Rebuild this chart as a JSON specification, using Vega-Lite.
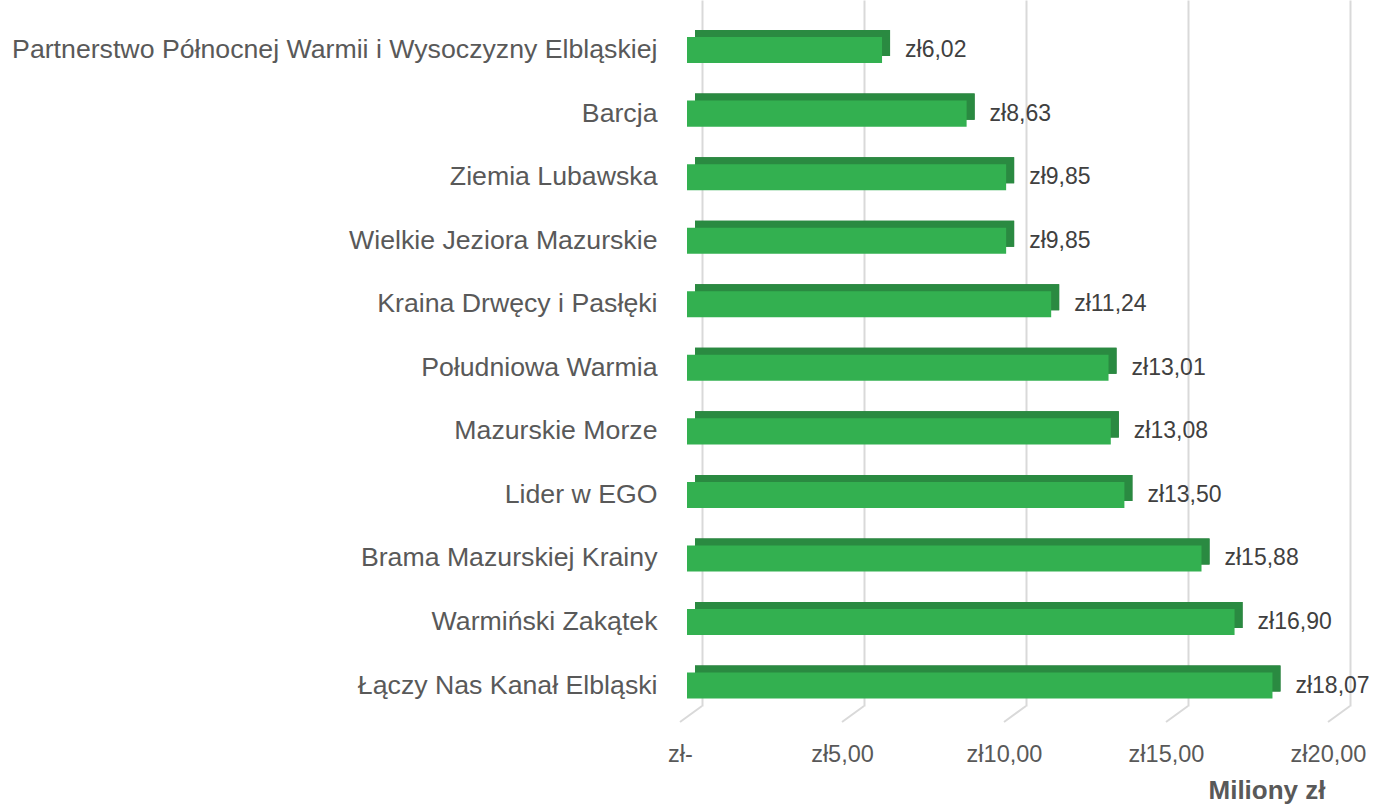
{
  "$schema": "https://vega.github.io/schema/vega-lite/v6.json",
  "autosize": "none",
  "width": 648,
  "height": 706,
  "padding": {"left": 702, "top": 0, "right": 24, "bottom": 100},
  "background": "white",
  "config": {
    "view": {"stroke": null},
    "font": "Liberation Sans",
    "locale": {"number": {"decimal": ",", "thousands": " ", "grouping": [3], "currency": ["zł", ""]}}
  },
  "data": {"values": [
    {"grupa": "Partnerstwo Północnej Warmii i Wysoczyzny Elbląskiej", "kwota": 6.02},
    {"grupa": "Barcja", "kwota": 8.63},
    {"grupa": "Ziemia Lubawska", "kwota": 9.85},
    {"grupa": "Wielkie Jeziora Mazurskie", "kwota": 9.85},
    {"grupa": "Kraina Drwęcy i Pasłęki", "kwota": 11.24},
    {"grupa": "Południowa Warmia", "kwota": 13.01},
    {"grupa": "Mazurskie Morze", "kwota": 13.08},
    {"grupa": "Lider w EGO", "kwota": 13.50},
    {"grupa": "Brama Mazurskiej Krainy", "kwota": 15.88},
    {"grupa": "Warmiński Zakątek", "kwota": 16.90},
    {"grupa": "Łączy Nas Kanał Elbląski", "kwota": 18.07}
  ]},
  "encoding": {
    "y": {
      "field": "grupa", "type": "nominal", "sort": null,
      "scale": {"paddingInner": 0.59, "paddingOuter": 0.35, "align": 0.833},
      "axis": {"title": null, "domain": false, "ticks": false, "labelPadding": 45, "labelFontSize": 26.7, "labelColor": "#595959", "labelLimit": 800}
    }
  },
  "layer": [
    {
      "data": {"values": [{"t": 0}, {"t": 5}, {"t": 10}, {"t": 15}, {"t": 20}]},
      "mark": {"type": "rule", "color": "#d9d9d9", "strokeWidth": 2, "x2Offset": -22, "y2Offset": 16},
      "encoding": {
        "y": {"value": "height"},
        "y2": {"value": "height"},
        "x": {"field": "t", "type": "quantitative"},
        "x2": {"field": "t"}
      }
    },
    {
      "mark": {"type": "bar", "color": "#1f6f33", "xOffset": -7, "x2Offset": -7, "yOffset": -7},
      "encoding": {
        "x": {
          "field": "kwota", "type": "quantitative",
          "scale": {"domain": [0, 20], "nice": false, "zero": true},
          "axis": {
            "values": [0, 5, 10, 15, 20], "format": "$.2f",
            "labelExpr": "datum.value == 0 ? 'zł-' : datum.label",
            "labelFlush": false, "labelOverlap": false,
            "domain": false, "ticks": false, "grid": true, "gridColor": "#d9d9d9", "gridWidth": 2,
            "labelPadding": 36, "labelFontSize": 23.5, "labelColor": "#595959", "labelOffset": -22,
            "title": "Miliony zł", "titleFontSize": 26, "titleFontWeight": "bold", "titleColor": "#595959",
            "titleAnchor": "end", "titleAlign": "right", "titleX": 623, "titlePadding": 12
          }
        }
      }
    },
    {
      "mark": {"type": "bar", "color": "#2a8a41", "xOffset": -7, "x2Offset": -15, "yOffset": -7},
      "encoding": {"x": {"field": "kwota", "type": "quantitative"}}
    },
    {
      "mark": {"type": "bar", "color": "#33b050", "xOffset": -15, "x2Offset": -15},
      "encoding": {"x": {"field": "kwota", "type": "quantitative"}}
    },
    {
      "mark": {"type": "text", "align": "left", "baseline": "middle", "dx": 8, "fontSize": 23, "color": "#404040"},
      "encoding": {
        "x": {"field": "kwota", "type": "quantitative"},
        "text": {"field": "kwota", "type": "quantitative", "format": "$.2f"}
      }
    }
  ]
}
